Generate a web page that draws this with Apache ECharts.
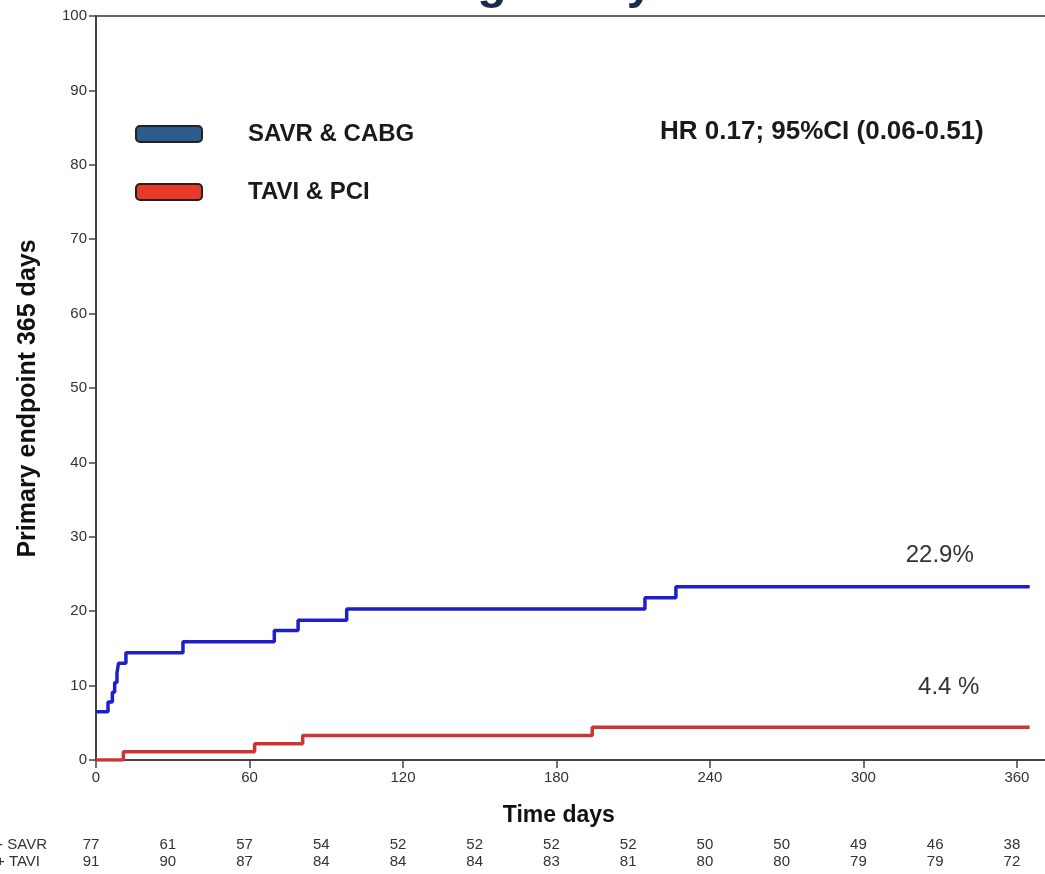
<!DOCTYPE html>
<html>
<head>
<meta charset="utf-8">
<script src="https://cdn.jsdelivr.net/npm/echarts@6/dist/echarts.min.js"></script>
<style>
html,body{margin:0;padding:0;background:#fff;}
#chart{width:1045px;height:874px;}
</style>
</head>
<body>
<div id="chart"></div>
<script>
// ---- data ----
const savrName = 'SAVR & CABG';
const taviName = 'TAVI & PCI';
// Kaplan-Meier steps: [day, cumulative event %]
const savrSteps = [[0,6.5],[4.7,7.8],[6.4,9.1],[7.3,10.4],[8.2,11.7],[8.8,13.0],[11.7,14.4],[34,15.9],[69.7,17.4],[79,18.8],[98,20.3],[214.6,21.8],[226.7,23.3],[365,23.3]];
const taviSteps = [[0,0],[10.7,1.1],[62,2.2],[80.8,3.3],[194,4.4],[365,4.4]];
const xTicks = [0,60,120,180,240,300,360];
const yTicks = [0,10,20,30,40,50,60,70,80,90,100];
const riskDays = [0,30,60,90,120,150,180,210,240,270,300,330,360];
const savrRisk = [77,61,57,54,52,52,52,52,50,50,49,46,38];
const taviRisk = [91,90,87,84,84,84,83,81,80,80,79,79,72];
const savrRowLabel = 'CABG + SAVR';
const taviRowLabel = 'PCI + TAVI';
const savrEndLabel = '22.9%';
const taviEndLabel = '4.4 %';
const hrText = 'HR 0.17; 95%CI (0.06-0.51)';
const titleText = 'Matching Study';

const chart = echarts.init(document.getElementById('chart'), null, {renderer:'canvas'});
const FONT = '"Liberation Sans", Arial, sans-serif';
const NARROW = '"Liberation Sans Narrow", "Arial Narrow", "Liberation Sans", sans-serif';

const option = {
  animation: false,
  backgroundColor: '#ffffff',
  grid: {
    left: 96, top: 16, width: 951.6, height: 744,
    outerBoundsMode: 'none', containLabel: false,
    show: true, borderColor: '#666', borderWidth: 2, backgroundColor: 'transparent'
  },
  legend: {
    orient: 'vertical',
    left: 130, top: 115,
    itemWidth: 66, itemHeight: 16, itemGap: 30,
    icon: 'roundRect',
    textStyle: {fontFamily: FONT, fontWeight: 'bold', fontSize: 24, color: '#1a1a1a', lineHeight: 28, padding: [0,0,0,41]},
    data: [
      {name: savrName, itemStyle: {color: '#2b5d8a', borderColor: '#222', borderWidth: 2}},
      {name: taviName, itemStyle: {color: '#e8392b', borderColor: '#222', borderWidth: 2}}
    ],
    selectedMode: false
  },
  xAxis: {
    type: 'value', min: 0, max: 372, interval: 60,
    name: 'Time days', nameLocation: 'middle', nameGap: 44,
    nameTextStyle: {fontFamily: FONT, fontWeight: 'bold', fontSize: 23, color: '#111', padding: [0, 26, 0, 0]},
    axisLine: {show: true, lineStyle: {color: '#444', width: 2}},
    axisTick: {show: true, length: 8, inside: false, lineStyle: {color: '#444', width: 1.5}},
    axisLabel: {fontFamily: FONT, fontSize: 15, color: '#333', margin: 10,
      formatter: v => xTicks.indexOf(v) >= 0 ? String(v) : ''},
    splitLine: {show: false}
  },
  yAxis: {
    type: 'value', min: 0, max: 100, interval: 10,
    name: 'Primary endpoint 365 days', nameLocation: 'middle', nameGap: 55, nameRotate: 90,
    nameTextStyle: {fontFamily: FONT, fontWeight: 'bold', fontSize: 25, color: '#111', padding: [0, 21, 0, 0]},
    axisLine: {show: true, lineStyle: {color: '#444', width: 2}},
    axisTick: {show: true, length: 7, inside: false, lineStyle: {color: '#444', width: 1.5}},
    axisLabel: {fontFamily: FONT, fontSize: 15, color: '#333', margin: 9,
      formatter: v => yTicks.indexOf(v) >= 0 ? String(v) : ''},
    splitLine: {show: false}
  },
  series: [
    {name: savrName, type: 'line', step: 'end', data: savrSteps, showSymbol: false, symbol: 'none',
     lineStyle: {color: '#1f1fc8', width: 3.5}, itemStyle: {color: '#2b5d8a'}, z: 3},
    {name: taviName, type: 'line', step: 'end', data: taviSteps, showSymbol: false, symbol: 'none',
     lineStyle: {color: '#cf3434', width: 3.5}, itemStyle: {color: '#e8392b'}, z: 3}
  ]
};
chart.setOption(option);

// ---- annotations and risk table positioned through the chart's own scales ----
const gfx = [];
gfx.push({type:'text', x: 296, y: -39, style:{text: titleText, font: 'bold 48px ' + FONT, fill: '#1b2a4e'}, silent: true});
gfx.push({type:'text', left: 660, top: 119, style:{text: hrText, font: 'bold 26px ' + FONT, fill: '#1a1a1a'}});
const p1 = chart.convertToPixel({xAxisIndex:0, yAxisIndex:0}, [331, 23.3]);
gfx.push({type:'text', x: p1[0] - 3, y: p1[1] - 31, style:{text: savrEndLabel, font: '24px ' + FONT, fill: '#333', align:'center', verticalAlign:'middle'}});
const p2 = chart.convertToPixel({xAxisIndex:0, yAxisIndex:0}, [331, 4.4]);
gfx.push({type:'text', x: p2[0] + 6, y: p2[1] - 40, style:{text: taviEndLabel, font: '24px ' + FONT, fill: '#333', align:'center', verticalAlign:'middle'}});
gfx.push({type:'text', x: 47, y: 845, style:{text: savrRowLabel, font: '15px ' + NARROW, fill: '#333', align:'right', verticalAlign:'middle'}});
gfx.push({type:'text', x: 40, y: 862, style:{text: taviRowLabel, font: '15px ' + NARROW, fill: '#333', align:'right', verticalAlign:'middle'}});
riskDays.forEach((d, i) => {
  const x = chart.convertToPixel({xAxisIndex:0}, d) - 5;
  gfx.push({type:'text', x: x, y: 845, style:{text: String(savrRisk[i]), font: '15px ' + NARROW, fill: '#333', align:'center', verticalAlign:'middle'}});
  gfx.push({type:'text', x: x, y: 862, style:{text: String(taviRisk[i]), font: '15px ' + NARROW, fill: '#333', align:'center', verticalAlign:'middle'}});
});
chart.setOption({graphic: gfx});
</script>
</body>
</html>
